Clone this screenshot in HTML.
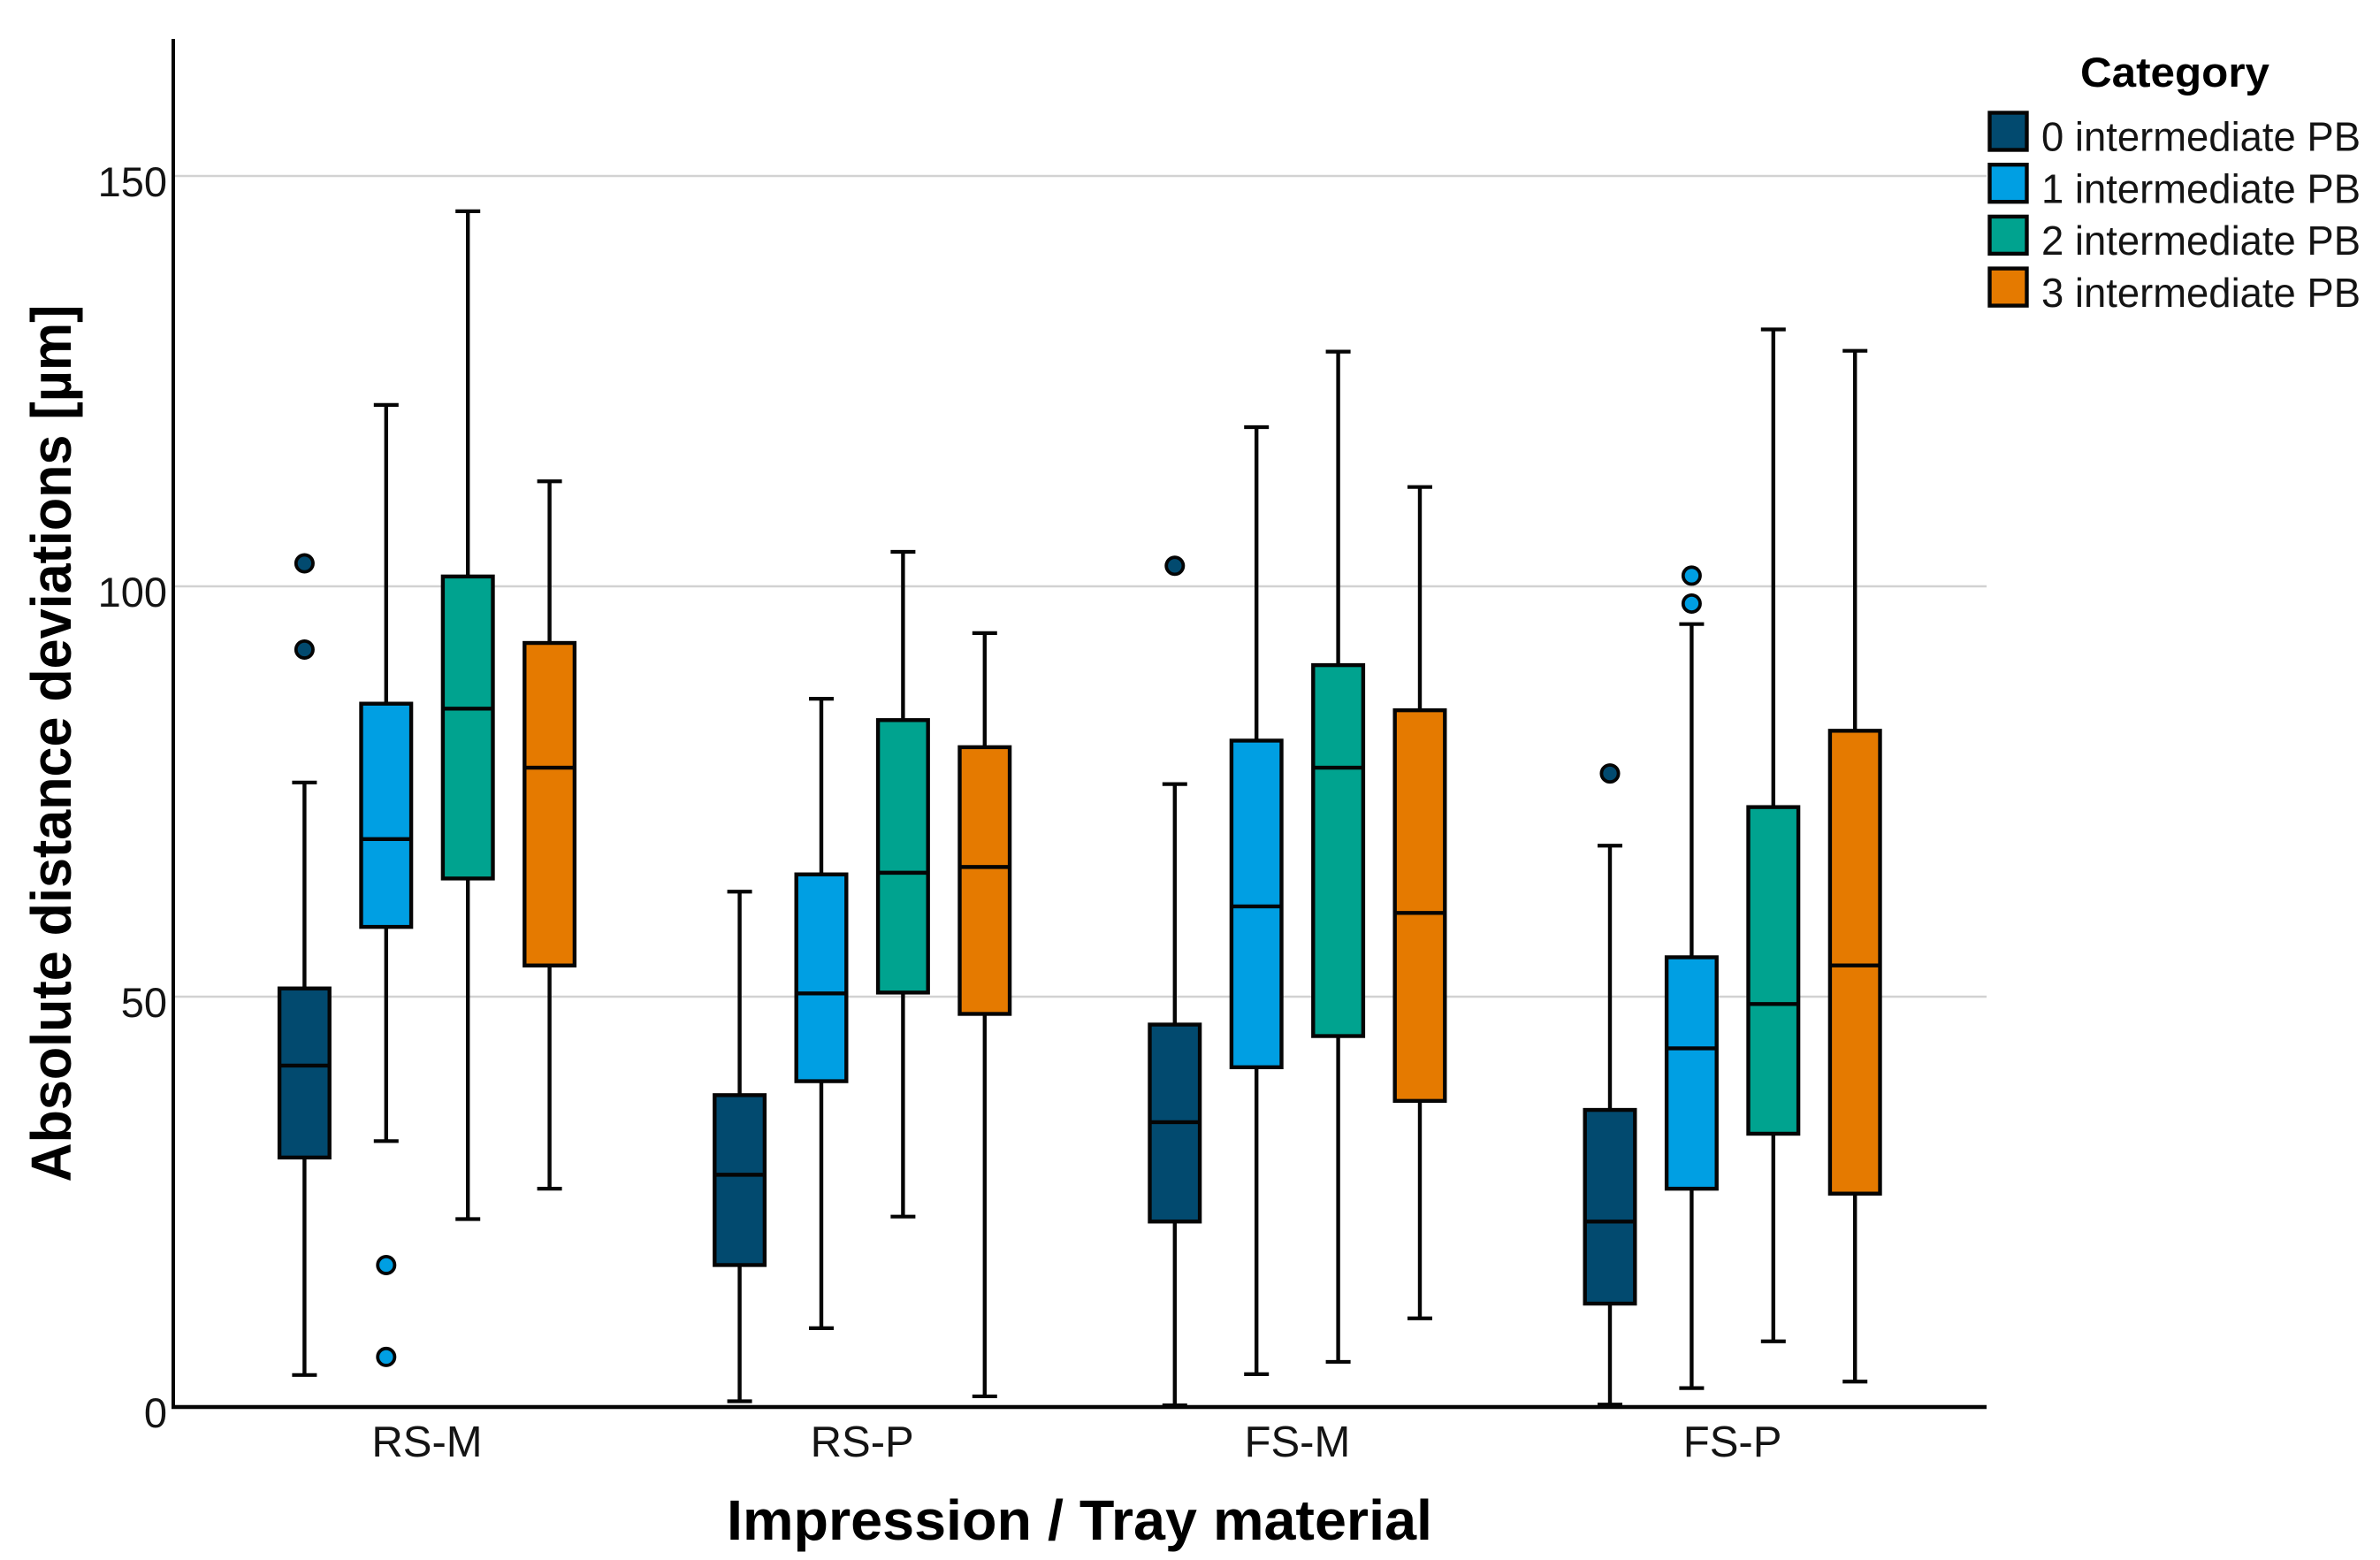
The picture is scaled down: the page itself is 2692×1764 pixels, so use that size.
<!DOCTYPE html>
<html lang="en">
<head>
<meta charset="utf-8">
<title>Absolute distance deviations box plot</title>
<style>
  html, body { margin: 0; padding: 0; background: #fff; }
  svg { display: block; }
  text { font-family: "Liberation Sans", Arial, sans-serif; fill: #141414; }
  text.bold-title { fill: #000; }
</style>
</head>
<body>
<svg id="chart" xmlns="http://www.w3.org/2000/svg" width="2692" height="1764" viewBox="0 0 2692 1764">
  <rect x="0" y="0" width="2692" height="1764" fill="#ffffff"/>
  <g id="grid"></g>
  <g id="marks"></g>
  <g id="axes"></g>
  <text class="bold-title" transform="translate(80,840.5) rotate(-90)" text-anchor="middle" font-size="64" font-weight="700" textLength="992" lengthAdjust="spacingAndGlyphs">Absolute distance deviations [µm]</text>
  <text class="bold-title" x="1221" y="1741" text-anchor="middle" font-size="64" font-weight="700" textLength="798" lengthAdjust="spacingAndGlyphs">Impression / Tray material</text>
  <g id="legend">
    <text class="bold-title" x="2460" y="98" text-anchor="middle" font-size="47" font-weight="700" textLength="214" lengthAdjust="spacingAndGlyphs">Category</text>
  </g>
</svg>
<script>
// Chart data. Outer index = category, inner index = series.
const categories = ['RS-M', 'RS-P', 'FS-M', 'FS-P'];
const seriesNames = ['0 intermediate PB', '1 intermediate PB', '2 intermediate PB', '3 intermediate PB'];
const yTicks = [0, 50, 100, 150];
const whiskerHigh = [
  [76.1, 122.1, 145.7, 112.8],
  [62.8, 86.3, 104.2, 94.3],
  [75.9, 119.4, 128.6, 112.1],
  [68.4, 95.4, 131.3, 128.7]
];
const boxTop = [
  [51.0, 85.7, 101.2, 93.1],
  [38.0, 64.9, 83.7, 80.4],
  [46.6, 81.2, 90.4, 84.9],
  [36.2, 54.8, 73.1, 82.4]
];
const medians = [
  [41.6, 69.2, 85.1, 77.9],
  [28.3, 50.4, 65.1, 65.8],
  [34.7, 61.0, 77.9, 60.2],
  [22.6, 43.7, 49.1, 53.8]
];
const boxBottom = [
  [30.4, 58.5, 64.4, 53.8],
  [17.3, 39.7, 50.5, 47.9],
  [22.6, 41.4, 45.2, 37.3],
  [12.6, 26.6, 33.3, 26.0]
];
const whiskerLow = [
  [3.9, 32.4, 22.9, 26.6],
  [0.7, 9.6, 23.2, 1.3],
  [0.2, 4.0, 5.5, 10.8],
  [0.3, 2.3, 8.0, 3.1]
];
const outliers = [
  [[102.8, 92.3], [17.3, 6.1], [], []],
  [[], [], [], []],
  [[102.5], [], [], []],
  [[77.2], [101.3, 97.9], [], []]
];
const seriesColors = ['#024a6f', '#009fe3', '#00a38f', '#e57a00'];

// Axis functions
const yScale = function (v) { return 1591 - v * 9.28; };
const xGroup = function (g) { return 483 + g * 492.2; };
const xBox = function (g, s) { return xGroup(g) + (s - 1.5) * 92.4; };

const NS = 'http://www.w3.org/2000/svg';
function make(tag, attrs, parent) {
  const el = document.createElementNS(NS, tag);
  for (const k in attrs) el.setAttribute(k, attrs[k]);
  parent.appendChild(el);
  return el;
}
const stroke = '#050505';
const gridG = document.getElementById('grid');
const marksG = document.getElementById('marks');
const axesG = document.getElementById('axes');
const legendG = document.getElementById('legend');

// Gridlines and y tick labels
yTicks.forEach(function (t) {
  if (t !== 0) {
    const line = make('line', { x1: 196, x2: 2247, y1: yScale(t), y2: yScale(t), stroke: '#d2d2d2', 'stroke-width': 2.5 }, gridG);
    
    
  }
  const label = make('text', { x: 189, y: yScale(t) + 23, 'text-anchor': 'end', 'font-size': 47 }, axesG);
  label.textContent = String(t);
  
  
});

// Boxes
categories.forEach(function (cat, g) {
  seriesNames.forEach(function (name, s) {
    const x = xBox(g, s);
    const id = cat.toLowerCase() + '-series-' + s;

    const group = make('g', {}, marksG);
    
    

    const whisker = make('line', { x1: x, x2: x, y1: yScale(whiskerHigh[g][s]), y2: yScale(whiskerLow[g][s]), stroke: stroke, 'stroke-width': 4.4 }, group);
    
    

    const capHigh = make('line', { x1: x - 14, x2: x + 14, y1: yScale(whiskerHigh[g][s]), y2: yScale(whiskerHigh[g][s]), stroke: stroke, 'stroke-width': 4.2 }, group);
    
    

    const capLow = make('line', { x1: x - 14, x2: x + 14, y1: yScale(whiskerLow[g][s]), y2: yScale(whiskerLow[g][s]), stroke: stroke, 'stroke-width': 4.2 }, group);
    
    

    const box = make('rect', { x: x - 28.3, y: yScale(boxTop[g][s]), width: 56.6, height: yScale(boxBottom[g][s]) - yScale(boxTop[g][s]), fill: seriesColors[s], stroke: stroke, 'stroke-width': 4.4 }, group);
    
    

    const med = make('line', { x1: x - 28.3, x2: x + 28.3, y1: yScale(medians[g][s]), y2: yScale(medians[g][s]), stroke: stroke, 'stroke-width': 4.4 }, group);
    
    

    outliers[g][s].forEach(function (v) {
      const dot = make('circle', { cx: x, cy: yScale(v), r: 9.6, fill: seriesColors[s], stroke: stroke, 'stroke-width': 3.8 }, group);
      
      
    });
  });

  const catLabel = make('text', { x: xGroup(g), y: 1647, 'text-anchor': 'middle', 'font-size': 49 }, axesG);
  catLabel.textContent = cat;
  
  
});

// Axis lines
const yAxis = make('line', { x1: 196, x2: 196, y1: 44, y2: 1593, stroke: stroke, 'stroke-width': 4 }, axesG);



const xAxis = make('line', { x1: 194, x2: 2247, y1: 1591, y2: 1591, stroke: stroke, 'stroke-width': 4.4 }, axesG);



// Legend
seriesNames.forEach(function (name, s) {
  const swatch = make('rect', { x: 2250.5, y: 127.5 + s * 58.7, width: 42, height: 42, fill: seriesColors[s], stroke: stroke, 'stroke-width': 4.4 }, legendG);
  
  

  const label = make('text', { x: 2309, y: 170.7 + s * 58.7, 'font-size': 46, textLength: 361, lengthAdjust: 'spacingAndGlyphs' }, legendG);
  label.textContent = name;
  
  
});
</script>
</body>
</html>
